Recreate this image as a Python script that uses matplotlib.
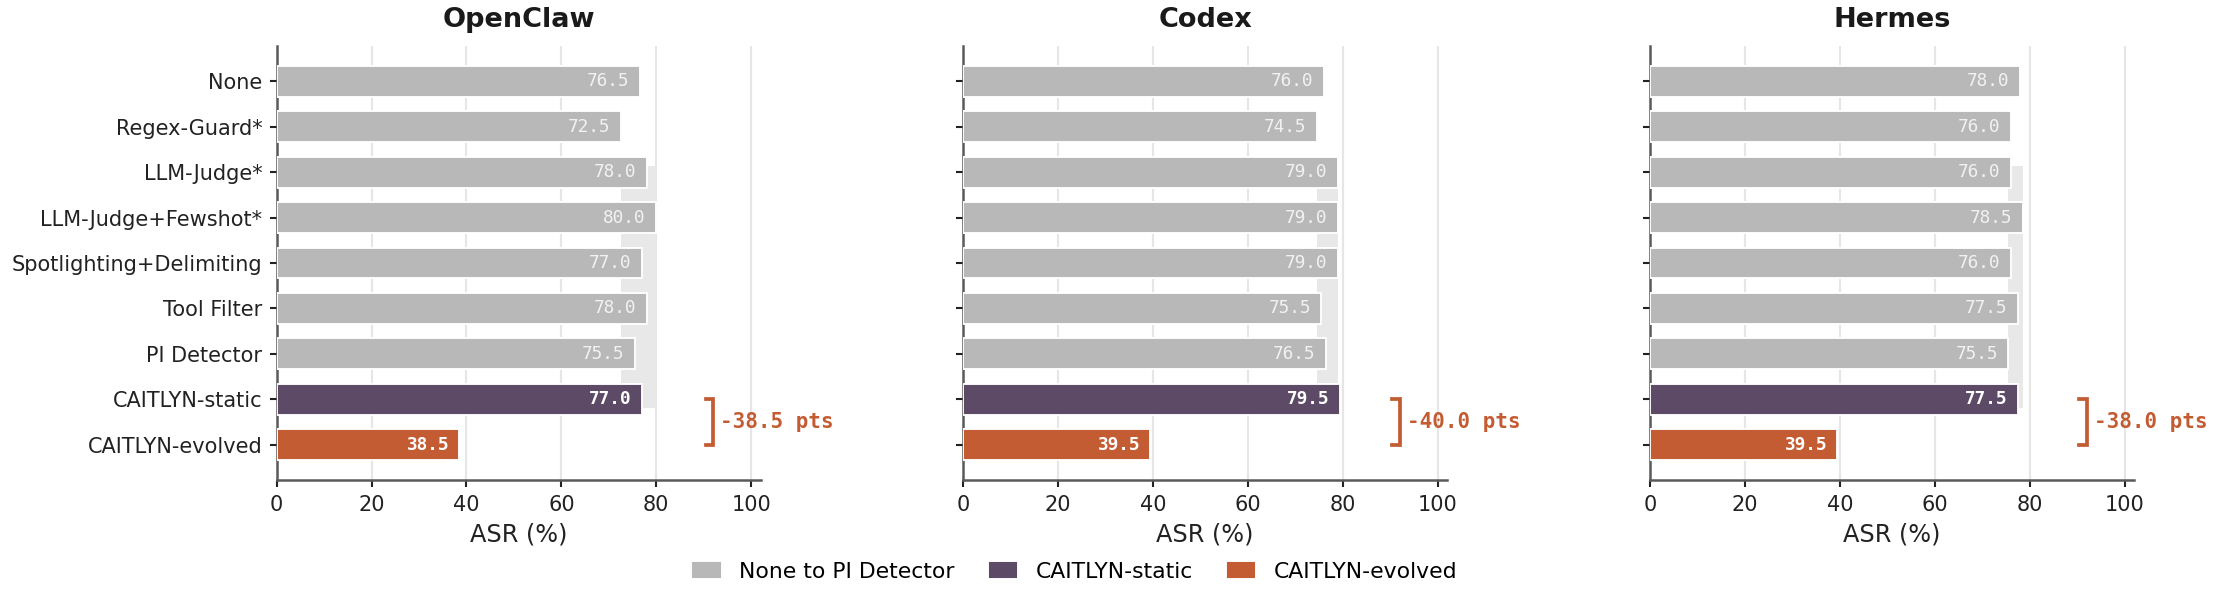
import matplotlib
matplotlib.use("Agg")
import matplotlib.pyplot as plt
from matplotlib.patches import Patch

# defenses, top to bottom
defenses = [
    "None",
    "Regex-Guard*",
    "LLM-Judge*",
    "LLM-Judge+Fewshot*",
    "Spotlighting+Delimiting",
    "Tool Filter",
    "PI Detector",
    "CAITLYN-static",
    "CAITLYN-evolved",
]
agents = ["OpenClaw", "Codex", "Hermes"]

# attack success rate (%) per agent, same order as defenses
asr_openclaw = [76.5, 72.5, 78.0, 80.0, 77.0, 78.0, 75.5, 77.0, 38.5]
asr_codex = [76.0, 74.5, 79.0, 79.0, 79.0, 75.5, 76.5, 79.5, 39.5]
asr_hermes = [78.0, 76.0, 76.0, 78.5, 76.0, 77.5, 75.5, 77.5, 39.5]
all_asr = [asr_openclaw, asr_codex, asr_hermes]

legend_labels = ["None to PI Detector", "CAITLYN-static", "CAITLYN-evolved"]

GRAY = "#b8b8b8"
PURPLE = "#5c4a67"
ORANGE = "#c45c33"
BAND = "#e8e8e8"
SPINE = "#5a5a5a"

n_base = 7
colors = [GRAY] * n_base + [PURPLE, ORANGE]

fig = plt.figure(figsize=(2219 / 150, 600 / 150), dpi=150)
lefts = [0.1247, 0.4340, 0.7436]
width = 0.2181

for i, (agent, vals) in enumerate(zip(agents, all_asr)):
    ax = fig.add_axes([lefts[i], 0.2, width, 0.7233])
    ypos = list(range(len(defenses)))

    ax.barh(ypos, vals, height=0.68, color=colors, edgecolor="white",
            linewidth=0.9, zorder=3)

    # spread of the baseline defenses
    base = vals[:n_base]
    ax.axvspan(min(base), max(base), ymin=0.165, ymax=0.723,
               color=BAND, lw=0, zorder=1)

    for y, v in enumerate(vals):
        if y < n_base:
            c, w = "#f2f2f2", "normal"
        else:
            c, w = "white", "bold"
        ax.annotate(f"{v:.1f}", xy=(v, y), xytext=(-5, 0),
                    textcoords="offset points", ha="right", va="center",
                    family="DejaVu Sans Mono", fontsize=8.5, color=c,
                    fontweight=w, zorder=4)

    # drop from static to evolved
    s, e = vals[n_base], vals[n_base + 1]
    ax.plot([90.5, 92, 92, 90.5], [n_base, n_base, n_base + 1, n_base + 1],
            color=ORANGE, lw=1.8, clip_on=False, zorder=4,
            solid_joinstyle="miter")
    ax.text(93.5, n_base + 0.5, f"-{s - e:.1f} pts", ha="left", va="center",
            family="DejaVu Sans Mono", fontweight="bold", fontsize=10,
            color=ORANGE, clip_on=False)

    ax.set_xlim(0, 102)
    ax.set_ylim(8.774, -0.774)
    ax.set_xticks([0, 20, 40, 60, 80, 100])
    ax.set_yticks(ypos)
    if i == 0:
        ax.set_yticklabels(defenses)
    else:
        ax.set_yticklabels([])
    ax.tick_params(labelsize=10, colors="#222222", length=3.5, width=1.0)
    ax.grid(axis="x", color="#e6e6e6", lw=1.0, zorder=0)
    ax.set_axisbelow(True)
    for side in ["top", "right"]:
        ax.spines[side].set_visible(False)
    for side in ["left", "bottom"]:
        ax.spines[side].set_color(SPINE)
        ax.spines[side].set_linewidth(1.2)
    ax.set_xlabel("ASR (%)", fontsize=11.5, color="#222222")
    ax.set_title(agent, fontsize=13, fontweight="bold", color="#1a1a1a", pad=9)

handles = [Patch(color=c) for c in [GRAY, PURPLE, ORANGE]]
fig.legend(handles, legend_labels, loc="center", bbox_to_anchor=(0.4847, 0.047),
           ncol=3, frameon=False, fontsize=10.5, handlelength=1.2,
           handleheight=0.6, handletextpad=0.9, columnspacing=1.6)

fig.savefig("out.png", dpi=150)
